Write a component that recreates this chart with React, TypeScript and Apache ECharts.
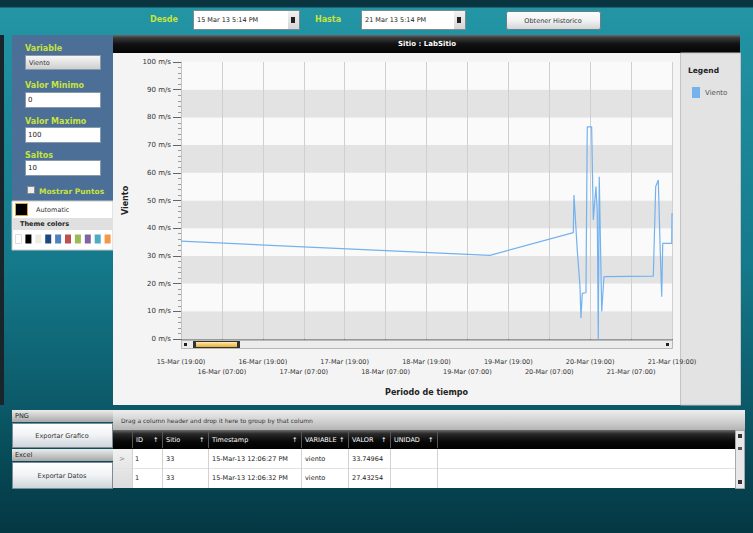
import React, { useEffect, useRef } from 'react';
import * as echarts from 'echarts';

// ---- Data ----
const axisStart = '2013-03-15 19:00';
const axisEnd = '2013-03-21 19:00';
const times = [
  '2013-03-15 19:00', '2013-03-19 13:35', '2013-03-20 14:03', '2013-03-20 14:15', '2013-03-20 14:50',
  '2013-03-20 15:13', '2013-03-20 16:01', '2013-03-20 16:18', '2013-03-20 16:41', '2013-03-20 17:46',
  '2013-03-20 18:09', '2013-03-20 19:26', '2013-03-20 19:55', '2013-03-20 20:42', '2013-03-20 21:05',
  '2013-03-20 21:23', '2013-03-20 21:40', '2013-03-20 22:23', '2013-03-20 23:03', '2013-03-21 13:31',
  '2013-03-21 14:13', '2013-03-21 14:59', '2013-03-21 15:29', '2013-03-21 15:59', '2013-03-21 16:17',
  '2013-03-21 18:55', '2013-03-21 19:00',
];
const viento = [
  35.3, 30.2, 38.4, 52, 40,
  32, 19, 7.6, 16.5, 16.7,
  76.6, 76.6, 43, 55, 45.5,
  0, 58.6, 9.9, 22.5, 22.7,
  55, 57.4, 34.5, 15.3, 34.5,
  34.5, 45.5,
];
const seriesName = 'Viento';
const monthNames = ['Jan', 'Feb', 'Mar', 'Apr', 'May', 'Jun', 'Jul', 'Aug', 'Sep', 'Oct', 'Nov', 'Dec'];

const themeColors = ['#ffffff', '#000000', '#eeece1', '#1f497d', '#4f81bd', '#c0504d', '#9bbb59', '#8064a2', '#4bacc6', '#f79646'];
const gridColumns = ['ID', 'Sitio', 'Timestamp', 'VARIABLE', 'VALOR', 'UNIDAD'];
const rowIds = ['1', '1'];
const rowSitios = ['33', '33'];
const rowTimestamps = ['15-Mar-13 12:06:27 PM', '15-Mar-13 12:06:32 PM'];
const rowVariables = ['viento', 'viento'];
const rowValores = ['33.74964', '27.43254'];

// ---- helpers ----
const FONT = 'DejaVu Sans';
function parseT(t: string) {
  const [d, hm] = t.split(' ');
  const [Y, M, D] = d.split('-').map(Number);
  const [h, m] = hm.split(':').map(Number);
  return Date.UTC(Y, M - 1, D, h, m);
}
const base = parseT(axisStart);
const hoursOf = (t: string) => (parseT(t) - base) / 3600000;
const pad = (n: number) => (n < 10 ? '0' + n : '' + n);

function grad(stops: [number, string][]) {
  return { type: 'linear', x: 0, y: 0, x2: 0, y2: 1, colorStops: stops.map(([offset, color]) => ({ offset, color })) };
}
function R(x: number, y: number, w: number, h: number, fill: any, o: any = {}) {
  return {
    type: 'rect', silent: true, z: o.z ?? -5,
    shape: { x, y, width: w, height: h, r: o.r || 0 },
    style: { fill, stroke: o.stroke || null, lineWidth: o.stroke ? (o.lw || 1) : 0 },
  };
}
function T(x: number, y: number, text: string, o: any = {}) {
  const align = o.align || 'left';
  return {
    type: 'text', silent: true, z: o.z ?? 5, x, y,
    style: {
      text, fill: o.fill || '#222', fontSize: o.size || 7, fontWeight: o.bold ? 'bold' : 'normal',
      fontStyle: o.italic ? 'italic' : 'normal', fontFamily: FONT,
      align, verticalAlign: 'middle', textAlign: align, textVerticalAlign: 'middle',
    },
  };
}
function L(x1: number, y1: number, x2: number, y2: number, stroke: string, z = 4) {
  return { type: 'line', silent: true, z, shape: { x1, y1, x2, y2 }, style: { stroke, lineWidth: 1 } };
}

function buildGraphics() {
  const g: any[] = [];
  const LBL = '#c9e33c';
  // background
  g.push(R(0, 0, 753, 533, grad([[0, '#0a3440'], [0.012, '#0a3440'], [0.016, '#2395a5'], [0.5, '#14798a'], [0.75, '#0c5b6a'], [0.9, '#064451'], [1, '#043842']]), { z: -20 }));
  g.push(R(0, 35, 4, 370, '#18262c', { z: -19 }));

  // toolbar
  g.push(T(150, 19, 'Desde', { fill: LBL, bold: true, size: 8 }));
  g.push(R(193.5, 10.5, 106, 19, '#ffffff', { stroke: '#7a8a90' }));
  g.push(T(197, 20, '15 Mar 13 5:14 PM', { size: 6.5, fill: '#222' }));
  g.push(R(288, 11, 11, 18, grad([[0, '#f2f2f2'], [1, '#d6d6d6']])));
  g.push(R(291, 17, 4, 6, '#222'));
  g.push(T(315, 19, 'Hasta', { fill: LBL, bold: true, size: 8 }));
  g.push(R(361.5, 10.5, 104, 19, '#ffffff', { stroke: '#7a8a90' }));
  g.push(T(365, 20, '21 Mar 13 5:14 PM', { size: 6.5, fill: '#222' }));
  g.push(R(454, 11, 11, 18, grad([[0, '#f2f2f2'], [1, '#d6d6d6']])));
  g.push(R(457, 17, 4, 6, '#222'));
  g.push(R(506.5, 11.5, 94, 18, grad([[0, '#ffffff'], [0.5, '#f2f2f2'], [1, '#cfd4d8']]), { stroke: '#6d7d86', r: 2 }));
  g.push(T(553, 20.5, 'Obtener Historico', { size: 6.5, align: 'center', fill: '#333' }));

  // left panel
  g.push(R(12, 35, 101, 166, '#4b6f97'));
  g.push(T(25, 48, 'Variable', { fill: LBL, bold: true, size: 8 }));
  g.push(R(25.5, 55.5, 75, 14, grad([[0, '#f8f8f8'], [1, '#cdcdcd']]), { stroke: '#8a99a8' }));
  g.push(T(29, 62.5, 'Viento', { size: 6.5, fill: '#333' }));
  g.push(T(25, 85, 'Valor Minimo', { fill: LBL, bold: true, size: 8 }));
  g.push(R(25.5, 92.5, 75, 15, '#ffffff', { stroke: '#8a99a8' }));
  g.push(T(28, 100, '0', { size: 7 }));
  g.push(T(25, 121, 'Valor Maximo', { fill: LBL, bold: true, size: 8 }));
  g.push(R(25.5, 127.5, 75, 15, '#ffffff', { stroke: '#8a99a8' }));
  g.push(T(28, 135, '100', { size: 7 }));
  g.push(T(25, 155, 'Saltos', { fill: LBL, bold: true, size: 8 }));
  g.push(R(25.5, 160.5, 75, 15, '#ffffff', { stroke: '#8a99a8' }));
  g.push(T(28, 168, '10', { size: 7 }));
  g.push(R(27.5, 186.5, 7, 7, '#eeeeee', { stroke: '#8a8a8a' }));
  g.push(T(39, 191, 'Mostrar Puntos', { fill: LBL, bold: true, size: 7.5 }));
  // colour picker
  g.push(R(12, 201, 101, 49, '#ffffff', { stroke: '#c8c8c8' }));
  g.push(R(15.5, 203.5, 12, 12, '#000000', { stroke: '#d8a62a' }));
  g.push(T(36, 210, 'Automatic', { size: 6.5, fill: '#333' }));
  g.push(R(13, 218, 100, 12, '#e0e0e0'));
  g.push(T(20, 224, 'Theme colors', { size: 6.5, bold: true, fill: '#222' }));
  themeColors.forEach((c, i) => {
    g.push(R(15.5 + i * 9.9, 234.5, 6, 9, c, { stroke: c === '#ffffff' ? '#dddddd' : null }));
  });

  // chart panel
  g.push(R(113, 35, 627, 18, grad([[0, '#6a6a6a'], [0.15, '#3a3a3a'], [0.5, '#111111'], [1, '#050505']])));
  g.push(T(427, 44, 'Sitio : LabSitio', { fill: '#ffffff', bold: true, size: 7, align: 'center' }));
  g.push(R(113, 53, 567, 352, '#f4f4f4'));
  g.push(R(680.5, 53, 60, 352, '#e3e3e3', { stroke: '#c4c4c4' }));
  g.push(T(688, 70, 'Legend', { bold: true, size: 7.5, fill: '#222' }));

  // scroll bar under plot
  g.push(R(181.5, 340.5, 491, 8, '#ececec', { stroke: '#b8b8b8', z: 10 }));
  g.push(R(184, 343, 3, 3, '#222', { z: 11 }));
  g.push(R(193.5, 341.5, 46, 6, grad([[0, '#fff1c0'], [0.5, '#f5cd6a'], [1, '#e0a838']]), { stroke: '#333', z: 11 }));
  g.push(R(193, 341, 3, 7, '#333', { z: 12 }));
  g.push(R(237, 341, 3, 7, '#333', { z: 12 }));
  g.push(R(666, 343, 3, 3, '#222', { z: 11 }));

  // bottom left: export buttons
  const hdr = grad([[0, '#ececec'], [1, '#a8a8a8']]);
  const btn = grad([[0, '#ffffff'], [0.5, '#f0f2f4'], [1, '#cdd4da']]);
  g.push(R(12, 410, 101, 12, hdr));
  g.push(T(15, 416, 'PNG', { size: 6.5, fill: '#222' }));
  g.push(R(12.5, 423.5, 100, 24, btn, { stroke: '#7b8b98' }));
  g.push(T(62, 436, 'Exportar Grafico', { size: 6.5, align: 'center', fill: '#333' }));
  g.push(R(12, 449, 101, 12, hdr));
  g.push(T(15, 455, 'Excel', { size: 6.5, fill: '#222' }));
  g.push(R(12.5, 462.5, 100, 26, btn, { stroke: '#7b8b98' }));
  g.push(T(62, 476, 'Exportar Datos', { size: 6.5, align: 'center', fill: '#333' }));

  // bottom data grid
  g.push(R(113, 410, 632, 20, grad([[0, '#eeeeee'], [0.5, '#d4d4d4'], [1, '#b4b4b4']])));
  g.push(T(121, 420, 'Drag a column header and drop it here to group by that column', { size: 6, fill: '#333' }));
  g.push(R(113, 430, 622, 19, grad([[0, '#6a6a6a'], [0.2, '#2a2a2a'], [0.6, '#080808'], [1, '#000000']])));
  const colX = [132, 162, 208, 301, 348, 390, 437];
  gridColumns.forEach((c, i) => {
    g.push(T(colX[i] + 4, 439.5, c, { size: 6.5, fill: '#ffffff' }));
    g.push(T(colX[i + 1] - 9, 439.5, '↑', { size: 6.5, fill: '#ffffff' }));
  });
  colX.forEach((x) => g.push(L(x + 0.5, 431, x + 0.5, 448, '#555555', 6)));
  g.push(R(132, 449, 603, 39, '#ffffff'));
  g.push(R(113, 449, 19, 39, grad([[0, '#f0f0f0'], [1, '#dcdcdc']])));
  g.push(T(119, 458.5, '>', { size: 7, fill: '#888' }));
  g.push(L(113, 468.5, 735, 468.5, '#e2e2e2'));
  colX.forEach((x) => g.push(L(x + 0.5, 449, x + 0.5, 488, '#d2d2d2')));
  const rowY = [458.5, 477.5];
  rowIds.forEach((_, i) => {
    g.push(T(135, rowY[i], rowIds[i], { size: 6.5 }));
    g.push(T(166, rowY[i], rowSitios[i], { size: 6.5 }));
    g.push(T(212, rowY[i], rowTimestamps[i], { size: 6.5 }));
    g.push(T(305, rowY[i], rowVariables[i], { size: 6.5 }));
    g.push(T(352, rowY[i], rowValores[i], { size: 6.5 }));
  });
  g.push(R(735.5, 430.5, 9, 58, '#e8e8e8', { stroke: '#a8a8a8' }));
  g.push(R(738, 434, 4, 4, '#333'));
  g.push(R(738, 447, 4, 3, '#555'));
  g.push(R(738, 480, 4, 4, '#333'));
  return g;
}

function fmtHour(v: number) {
  const d = new Date(base + v * 3600000);
  return `${d.getUTCDate()}-${monthNames[d.getUTCMonth()]} (${pad(d.getUTCHours())}:${pad(d.getUTCMinutes())})`;
}
// row 1: ticks at 19:00; row 2: ticks at 07:00
const labelRow1 = (v: number) => (Math.round(v) % 24 === 0 ? fmtHour(v) : '');
const labelRow2 = (v: number) => (Math.round(v) % 24 === 12 ? fmtHour(v) : '');

export default function App() {
  const ref = useRef<HTMLDivElement>(null);
  useEffect(() => {
    if (!ref.current) return;
    const chart = echarts.init(ref.current, null, { renderer: 'svg' });
    const xMax = hoursOf(axisEnd);
    const labelBase = { fontSize: 6.5, color: '#333', fontFamily: FONT, hideOverlap: false };
    chart.setOption({
      animation: false,
      backgroundColor: 'transparent',
      textStyle: { fontFamily: FONT },
      graphic: { elements: buildGraphics() },
      legend: {
        data: [seriesName], left: 687, top: 82, orient: 'vertical', icon: 'rect',
        itemWidth: 8, itemHeight: 11, itemGap: 4,
        textStyle: { fontSize: 7, color: '#555', fontFamily: FONT },
      },
      grid: { left: 181, top: 62, width: 491, height: 277, containLabel: false },
      xAxis: [
        {
          type: 'value', min: 0, max: xMax, interval: 12, offset: 10, position: 'bottom',
          name: 'Periodo de tiempo', nameLocation: 'middle', nameGap: 39,
          nameTextStyle: { fontWeight: 'bold', fontSize: 8, color: '#222', fontFamily: FONT },
          axisLine: { show: true, lineStyle: { color: '#9a9a9a' } },
          axisTick: { show: true, length: 5, lineStyle: { color: '#777' } },
          axisLabel: { ...labelBase, formatter: labelRow1, margin: 9 },
          splitLine: { show: true, lineStyle: { color: '#d0d0d0', width: 1 } },
        },
        {
          type: 'value', min: 0, max: xMax, interval: 12, offset: 10, position: 'bottom',
          axisLine: { show: false },
          axisTick: { show: false },
          axisLabel: { ...labelBase, formatter: labelRow2, margin: 19 },
          splitLine: { show: false },
        },
      ],
      yAxis: {
        type: 'value', min: 0, max: 100, interval: 10,
        name: seriesName, nameLocation: 'middle', nameGap: 52, nameRotate: 90,
        nameTextStyle: { fontWeight: 'bold', fontSize: 8, color: '#222', fontFamily: FONT },
        axisLine: { show: true, lineStyle: { color: '#c4c4c4' } },
        axisTick: { show: true, length: 8, lineStyle: { color: '#666' } },
        minorTick: { show: true, splitNumber: 5, length: 3, lineStyle: { color: '#9a9a9a' } },
        axisLabel: { formatter: '{value} m/s', fontSize: 7, color: '#333', margin: 10, fontFamily: FONT },
        splitLine: { show: false },
        splitArea: { show: true, areaStyle: { color: ['#e3e3e3', '#fafafa'] } },
      },
      series: [
        {
          type: 'line', name: seriesName, xAxisIndex: 0,
          data: times.map((t, i) => [hoursOf(t), viento[i]]),
          showSymbol: false, symbol: 'none',
          lineStyle: { color: '#74b2ee', width: 1.2 },
          itemStyle: { color: '#74b2ee' },
        },
      ],
    });
    return () => chart.dispose();
  }, []);
  return <div ref={ref} style={{ position: 'absolute', left: 0, top: 0, width: 753, height: 533 }} />;
}
